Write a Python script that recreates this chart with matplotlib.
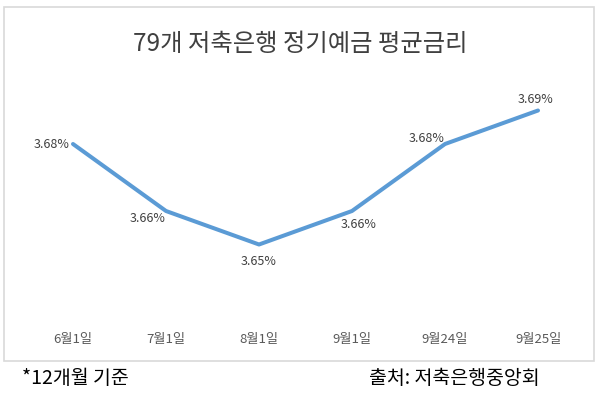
import matplotlib
matplotlib.use("Agg")
import matplotlib.pyplot as plt
from matplotlib.patches import Rectangle

plt.rcParams['font.family'] = ['Noto Sans CJK KR', 'DejaVu Sans']

# data
dates = ['6월1일', '7월1일', '8월1일', '9월1일', '9월24일', '9월25일']
rates = [3.68, 3.66, 3.65, 3.66, 3.68, 3.69]
# label offsets in pixels (dx, dy, ha)
label_pos = [(-3, 0, 'right'), (0, -8, 'right'), (0, -17, 'center'),
             (7, -14, 'center'), (-18, 6, 'center'), (-2, 11, 'center')]

W, H = 600, 399
fig = plt.figure(figsize=(W / 100, H / 100), dpi=100)

# outer light gray frame
fig.patches.append(Rectangle((4 / W, 1 - 361 / H), 590 / W, 354 / H,
                             transform=fig.transFigure, fill=False,
                             edgecolor='#d9d9d9', linewidth=1.2))

# axes in pixel coords
left, right, top, bottom = 26.5, 584.5, 60, 320
ax = fig.add_axes([left / W, 1 - bottom / H, (right - left) / W, (bottom - top) / H])
x = list(range(len(dates)))
ax.plot(x, rates, color='#5b9bd5', linewidth=2.9, solid_joinstyle='round',
        solid_capstyle='round')
ax.set_xlim(-0.5, len(dates) - 0.5)
# 3.68 at y=144px, 0.01 per 33.5px
ax.set_ylim(3.68 - (bottom - 144) / 3350, 3.68 + (144 - top) / 3350)

for i, (v, (dx, dy, ha)) in enumerate(zip(rates, label_pos)):
    ax.annotate(f'{v:.2f}%', (i, v), xytext=(dx, dy), textcoords='offset pixels',
                ha=ha, va='center', fontsize=9, color='#404040')

ax.set_xticks(x)
ax.set_xticklabels(dates, fontsize=9.5, color='#595959')
ax.tick_params(axis='x', length=0, pad=9)
ax.set_yticks([])
for s in ax.spines.values():
    s.set_visible(False)

fig.text(0.5, 1 - 44 / H, '79개 저축은행 정기예금 평균금리', ha='center', va='center',
         fontsize=17.5, color='#404040')
fig.text(22 / W, 1 - 378 / H, '*12개월 기준', ha='left', va='center',
         fontsize=14, color='black')
fig.text(540 / W, 1 - 378 / H, '출처: 저축은행중앙회', ha='right', va='center',
         fontsize=14, color='black')

fig.savefig('out.png', dpi=100, facecolor='white')
